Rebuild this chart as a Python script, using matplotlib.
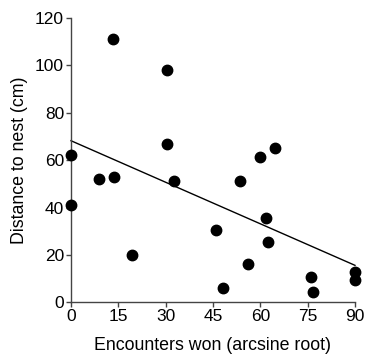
import matplotlib
matplotlib.use("Agg")
import matplotlib.pyplot as plt

x_vals = [0, 0, 8.9, 13.7, 13.3, 19.2, 30.3, 30.5, 32.6, 45.8, 48.2, 53.5, 56.0, 59.9, 61.8, 62.3, 64.7, 75.9, 76.8, 90, 90]
y_vals = [62, 41, 52, 53, 111, 20, 98, 67, 51, 30.4, 6.2, 51.3, 16.3, 61.3, 35.4, 25.5, 65.2, 10.6, 4.4, 12.7, 9.4]
line_x = [0, 90]
line_y = [68.2, 15.6]
x_ticks = [0, 15, 30, 45, 60, 75, 90]
y_ticks = [0, 20, 40, 60, 80, 100, 120]

plt.rcParams['font.family'] = ['Liberation Sans', 'DejaVu Sans']
fig = plt.figure(figsize=(3.66, 3.59), dpi=100)
ax = fig.add_axes([71/366, 1 - 302.3/359, (355-71)/366, (302.3-18)/359])
ax.plot(line_x, line_y, color='black', lw=1.0, clip_on=False)
ax.plot(x_vals, y_vals, 'o', color='black', ms=7.5, clip_on=False, zorder=3)
ax.set_xlim(0, 90)
ax.set_ylim(0, 120)
ax.set_xticks(x_ticks)
ax.set_yticks(y_ticks)
for s in ['top', 'right']:
    ax.spines[s].set_visible(False)
for s in ['left', 'bottom']:
    ax.spines[s].set_color('#444444')
    ax.spines[s].set_linewidth(1.0)
ax.tick_params(direction='out', length=3.5, width=1, color='#444444', labelsize=12.5, pad=1.5)
ax.set_xlabel('Encounters won (arcsine root)', fontsize=12.8, labelpad=9)
ax.set_ylabel('Distance to nest (cm)', fontsize=12.8, labelpad=5)
fig.savefig('out.png', dpi=100)
